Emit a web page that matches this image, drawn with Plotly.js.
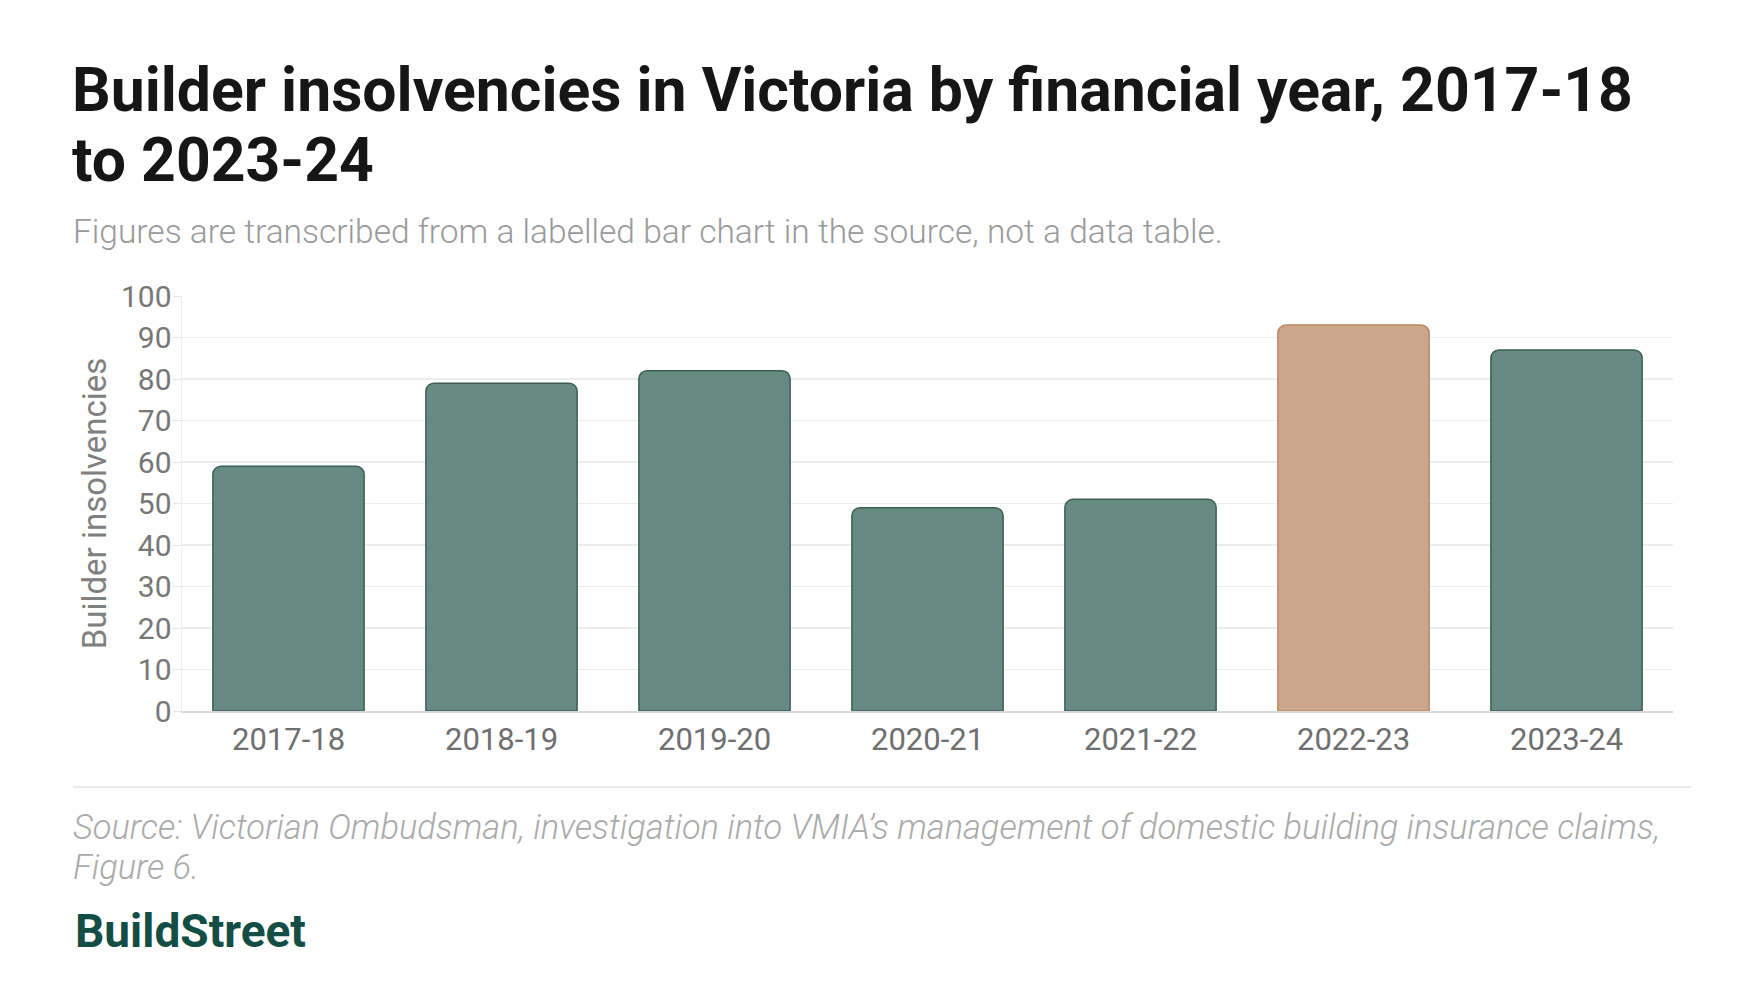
<!DOCTYPE html>
<html>
<head>
<meta charset="utf-8">
<script src="https://cdn.plot.ly/plotly-3.0.1.min.js"></script>
<style>
  html, body { margin: 0; padding: 0; background: #fff; }
  #chart { width: 1760px; height: 1000px; }
</style>
</head>
<body>
<div id="chart"></div>
<script>
// values in the source figure
const years = ['2017-18', '2018-19', '2019-20', '2020-21', '2021-22', '2022-23', '2023-24'];
const insolvencies = [59, 79, 82, 49, 51, 93, 87];
const highlightYear = '2022-23';
const yTicks = [0, 10, 20, 30, 40, 50, 60, 70, 80, 90, 100];

const GREEN = '#678a81';
const GREEN_LINE = '#3b5e55';
const TAN = '#cca68a';
const TAN_LINE = '#b98962';
const FONT = 'Roboto, "Noto Sans", sans-serif';

// plot area in pixels, used to place the text around it
const L = 182, R = 1673, T = 296, B = 711;
const px = x => (x - L) / (R - L);
const py = y => (B - y) / (B - T);

const trace = {
  type: 'bar',
  x: years,
  y: insolvencies,
  marker: {
    color: years.map(y => y === highlightYear ? TAN : GREEN),
    line: { color: years.map(y => y === highlightYear ? TAN_LINE : GREEN_LINE), width: 1.5 },
    cornerradius: 8
  },
  hoverinfo: 'x+y'
};

const layout = {
  width: 1760,
  height: 1000,
  margin: { l: L, r: 1760 - R, t: T, b: 1000 - B, autoexpand: false },
  paper_bgcolor: '#fff',
  plot_bgcolor: '#fff',
  font: { family: FONT, color: '#777' },
  bargap: 0.29,
  showlegend: false,
  xaxis: {
    type: 'category',
    showgrid: false,
    showline: true,
    linecolor: '#d9d9d9',
    linewidth: 1.5,
    ticks: '',
    tickfont: { size: 31, color: '#6f6f6f' },
    automargin: false
  },
  yaxis: {
    range: [0, 100],
    tickvals: yTicks,
    showgrid: true,
    gridcolor: '#ececec',
    gridwidth: 1.5,
    zeroline: false,
    showline: true,
    linecolor: '#eeeeee',
    linewidth: 1.5,
    ticks: 'outside',
    ticklen: 8,
    tickcolor: '#e6e6e6',
    ticklabelstandoff: -5,
    tickfont: { size: 30, color: '#777' },
    title: { text: 'Builder insolvencies', font: { size: 33, color: '#808080' }, standoff: 4 },
    automargin: false
  },
  shapes: [{
    type: 'line', xref: 'paper', yref: 'paper',
    x0: px(73), x1: px(1691), y0: py(787), y1: py(787),
    line: { color: '#e2e2e2', width: 1.5 }
  }],
  annotations: [
    { text: 'Builder insolvencies in Victoria by financial year, 2017-18', x: px(70), y: py(90),
      font: { size: 60.7, color: '#161616', weight: 700 } },
    { text: 'to 2023-24', x: px(70), y: py(160),
      font: { size: 60.7, color: '#161616', weight: 700 } },
    { text: 'Figures are transcribed from a labelled bar chart in the source, not a data table.',
      x: px(71), y: py(231), font: { size: 33.5, color: '#9a9a9a', weight: 300 } },
    { text: '<i>Source: Victorian Ombudsman, investigation into VMIA\u2019s management of domestic building insurance claims,</i>',
      x: px(71), y: py(827), font: { size: 34.4, color: '#aaaaaa', weight: 300 } },
    { text: '<i>Figure 6.</i>', x: px(71), y: py(867), font: { size: 34.4, color: '#aaaaaa', weight: 300 } },
    { text: 'BuildStreet', x: px(73), y: py(931), font: { size: 46, color: '#134d44', weight: 700 } }
  ].map(a => Object.assign({ xref: 'paper', yref: 'paper', xanchor: 'left', yanchor: 'middle', showarrow: false }, a))
};

Plotly.newPlot('chart', [trace], layout, { displayModeBar: false, staticPlot: true });
</script>
</body>
</html>
